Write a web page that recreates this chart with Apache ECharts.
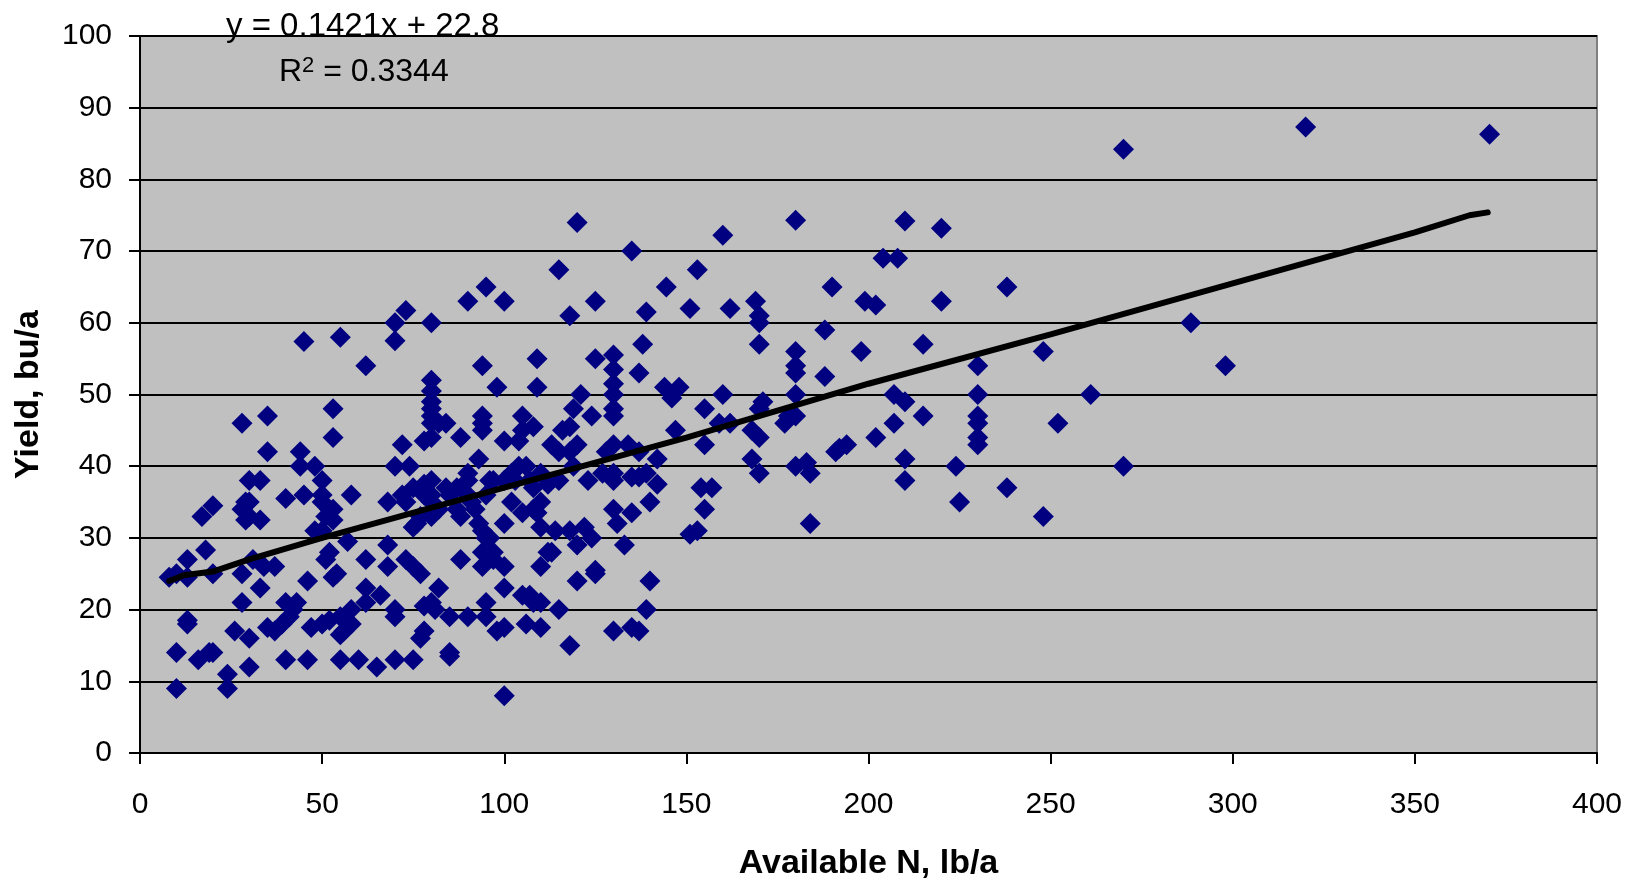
<!DOCTYPE html>
<html>
<head>
<meta charset="utf-8">
<script src="https://cdn.jsdelivr.net/npm/echarts@6/dist/echarts.min.js"></script>
<style>
html, body { margin: 0; padding: 0; background: #fff; }
#main { width: 1633px; height: 878px; }
</style>
</head>
<body>
<div id="main"></div>
<script>
// [available N, yield]
const points = [
  [370.5,86.3],[320,87.3],[270,84.2],[270,40],[298,54],[288.5,60],[261,50],[252,46],[248,56],[248,33],
  [238,65],[238,37],[230,54],[230,50],[230,47],[230,46],[230,44],[230,43],[224,40],[225,35],
  [220,73.2],[220,63],[215,57],[215,47],[210,74.2],[210,49],[210,41],[210,38],[208,69],[204,69],
  [207,50],[207,46],[202,62.5],[199,63],[202,44],[198,56],[194,43],[191,42],[192,42.5],[190,65],
  [188,59],[188,52.5],[184,39],[184,32],[183,40.5],[180,74.3],[180,56],[180,54],[180,53],[180,50],
  [180,47],[180,40],[177,46],[178,47],[170,61],[169,63],[170,60],[170,57],[171,49],[170,48],
  [170,44],[170,39],[168,45],[168,41],[162,62],[160,72.2],[160,50],[159,46],[162,46],[155,48],
  [155,43],[155,34],[157,37],[154,37],[153,67.4],[151,62],[153,31],[151,30.5],[147,45],[148,51],
  [146,49.5],[144.5,65],[144,51],[142,41],[142,37.5],[135,70],[139,61.5],[138,57],[137,53],[139,39],
  [140,35],[140,24],[139,20],[137,17],[135,17.5],[135,33.5],[133,29],[131,32],[130,34],[130,17],
  [130,55.5],[130,53.5],[130,51.5],[130,50],[130,48],[130,47],[130,43],[130,39],[130,38],[134,43],
  [127,39],[128,42],[135,38.5],[137,38.5],[137,42],[125,63],[125,55],[124,47],[125,25.5],[125,25],
  [123,38],[124,30],[121,50],[118,61],[115,67.4],[120,74],[119,48],[118,45.5],[116,45],[115,42],
  [113,43],[118,42],[120,43],[119,40],[120,29],[120,24],[118,15],[115,20],[122,31.5],[118,31],
  [114,31],[112,28],[113,28],[110,31.5],[108,34],[109,33.5],[110,35],[110,26],[108,45.5],[109,51],
  [109,55],[105,47],[105,45],[104,43.5],[100,63],[95,65],[90,63],[94,54],[98,51],[94,47],
  [94,46],[94,45],[93,41],[88,44],[84,46],[80,60],[80,52],[80,50.5],[80,49],[80,48],
  [80,47],[80,46],[82,46],[80,44],[78,43.5],[73,61.7],[70,60],[70,57.5],[62,54],[55,58],
  [45,57.4],[53,48],[53,44],[35,47],[28,46],[35,42],[44,42],[44,40],[48,40],[45,36],
  [40,35.5],[50,38],[50,36],[50,35],[52,34],[51,33],[53,34],[53,32.5],[48,31],[50,31],
  [58,36],[57,29.5],[52,28],[51,27],[53,24.5],[54,25],[46,24],[30,38],[33,38],[29,35],
  [30,35],[28,34],[30,33],[29,32.5],[33,32.5],[37,26],[34,26],[31,27],[28,25],[33,23],
  [28,21],[20,34.5],[17,33],[18,28.3],[13,27],[8,24.5],[10,25],[13,24.5],[20,25],[13,18],
  [13,18.5],[10,14],[10,9],[16,13],[19,14],[20,14],[24,11],[24,9],[26,17],[30,16],
  [30,12],[35,17.5],[37,17],[39,18],[40,21],[42,20],[43,21],[41,19],[40,13],[46,13],
  [47,17.5],[50,18],[52,18.5],[55,19],[55,16.5],[56,17],[58,18],[58,20],[55,13],[60,13],
  [65,12],[62,21],[62,23],[62,27],[66,22],[68,29],[68,26],[70,19],[70,20],[70,13],
  [75,13],[75,26],[73,27],[77,25],[78,20.5],[77,16],[78,17],[80,21],[81,20],[82,23],
  [85,13.5],[85,14],[85,19],[90,19],[95,19],[95,21],[98,17],[100,17.5],[100,23],[100,26],
  [100,8],[105,22],[107,22],[108,21],[106,18],[110,21],[110,17.5],[68,35],[70,40],[72,43],
  [72,36],[73,35],[74,40],[75,37],[76,32],[75,31.5],[77,33],[78,37.5],[78,36],[80,33],
  [80,36],[80,35],[82,34],[80,38],[84,37],[85,36],[87,37],[87,34],[88,33],[90,39],
  [90,38],[90,36],[91,35],[92,34],[93,32],[94,31],[95,36],[96,38],[97,38],[95,30],
  [96,30],[97,28],[94,28],[94,26],[88,27],[100,38],[100,43.5],[100,32],[102,35],[102,39],
  [103,38],[105,33.5],[106,40],[107,38],[108,37],[110,39],[112,37.5],[115,38],[104,40],[97,27]
];
const trendLine = [
  [8,24],[12,24.8],[20,25.3],[30,27],[50,30],[100,37],[150,44],[200,51.5],[250,58.4],[300,65.5],[350,72.6],[365,75],[370,75.4]
];
const equationText = 'y = 0.1421x + 22.8';
const xName = 'Available N, lb/a';
const yName = 'Yield, bu/a';

const font = '"Liberation Sans", Arial, sans-serif';
const myChart = echarts.init(document.getElementById('main'));
myChart.setOption({
  animation: false,
  backgroundColor: '#fff',
  textStyle: { fontFamily: font },
  grid: {
    left: 140, top: 36, right: 36, bottom: 125,
    outerBoundsMode: 'none',
    show: true,
    backgroundColor: '#c0c0c0',
    borderColor: '#808080',
    borderWidth: 2
  },
  xAxis: {
    type: 'value', min: 0, max: 400, interval: 50,
    name: xName, nameLocation: 'middle', nameGap: 94,
    nameTextStyle: { fontSize: 34, fontWeight: 'bold', color: '#000', fontFamily: font },
    axisLine: { show: true, onZero: false, lineStyle: { color: '#000', width: 2 } },
    axisTick: { show: true, length: 11, lineStyle: { color: '#000', width: 2 } },
    axisLabel: { fontSize: 30, color: '#000', margin: 37, fontFamily: font },
    splitLine: { show: false }
  },
  yAxis: {
    type: 'value', min: 0, max: 100, interval: 10,
    name: yName, nameLocation: 'middle', nameGap: 94, nameRotate: 90,
    nameTextStyle: { fontSize: 34, fontWeight: 'bold', color: '#000', fontFamily: font },
    axisLine: { show: true, lineStyle: { color: '#000', width: 2 } },
    axisTick: { show: true, length: 11, lineStyle: { color: '#000', width: 2 } },
    axisLabel: { fontSize: 30, color: '#000', margin: 28, fontFamily: font },
    splitLine: { show: true, lineStyle: { color: '#000', width: 2 } }
  },
  title: [
    { text: equationText, left: 221, top: 5, textStyle: { fontSize: 33, fontWeight: 'normal', color: '#000', fontFamily: font } },
    {
      text: 'R{sup|2} = 0.3344', left: 274, top: 50,
      textStyle: {
        fontSize: 32, fontWeight: 'normal', color: '#000', fontFamily: font,
        rich: {
          sup: { fontSize: 22, color: '#000', fontFamily: font, verticalAlign: 'top', padding: [0, 0, 12, 0] }
        }
      }
    }
  ],
  series: [
    {
      name: 'Yield',
      type: 'scatter',
      symbol: 'diamond',
      symbolSize: 21,
      itemStyle: { color: '#000080', opacity: 1 },
      data: points,
      z: 3
    },
    {
      name: 'Trend',
      type: 'line',
      showSymbol: false,
      smooth: false,
      lineStyle: { color: '#000', width: 6, cap: 'round' },
      data: trendLine,
      z: 4
    }
  ]
});
</script>
</body>
</html>
